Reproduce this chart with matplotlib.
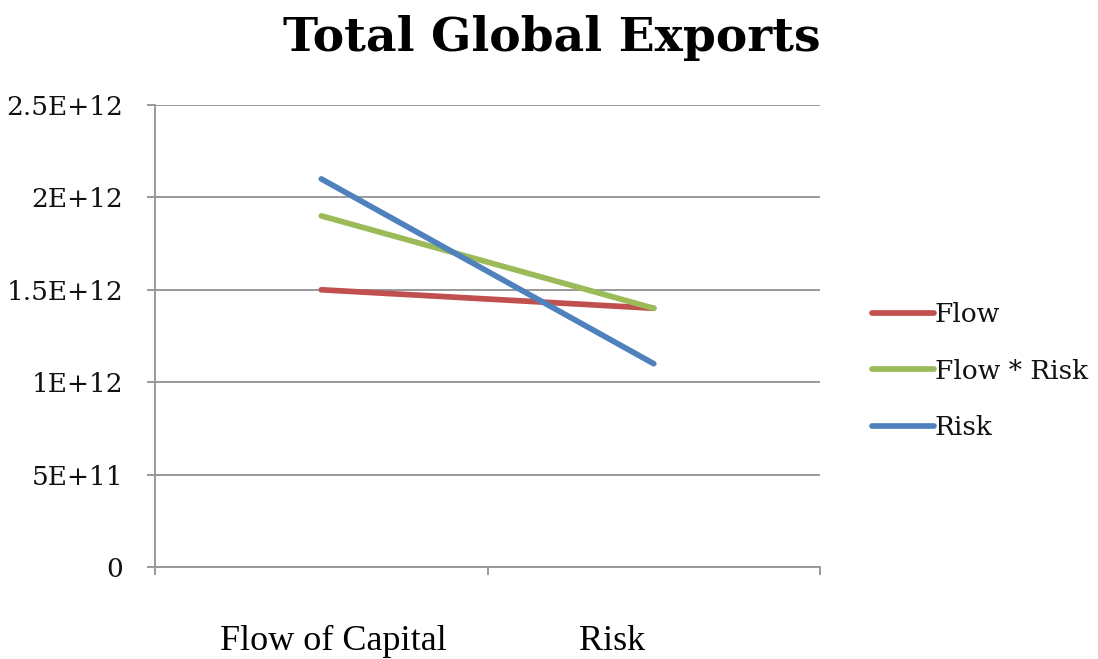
import matplotlib
matplotlib.use("Agg")
import matplotlib.pyplot as plt
import numpy as np

categories = ["Flow of Capital", "Risk"]
flow = [1.5e12, 1.4e12]
flow_risk = [1.9e12, 1.4e12]
risk = [2.1e12, 1.1e12]
y_ticks = [0, 5e11, 1e12, 1.5e12, 2e12, 2.5e12]
y_labels = ["0", "5E+11", "1E+12", "1.5E+12", "2E+12", "2.5E+12"]

fig = plt.figure(figsize=(10.98, 6.59), dpi=100)
ax = fig.add_axes([0.1412, 0.1396, 0.6056, 0.7011])

x = np.arange(len(categories)) + 0.5
ax.plot(x, flow, color="#C0504D", lw=4.1, label="Flow", solid_capstyle="round")
ax.plot(x, flow_risk, color="#9BBB59", lw=4.1, label="Flow * Risk", solid_capstyle="round")
ax.plot(x, risk, color="#4F81BD", lw=4.1, label="Risk", solid_capstyle="round")

ax.set_xlim(0, len(categories))
ax.set_ylim(0, 2.5e12)
ax.set_xticks(np.arange(len(categories) + 1))
ax.set_xticklabels([])
ax.set_yticks(y_ticks)
ax.set_yticklabels(y_labels, family="DejaVu Serif", fontsize=19, color="#111111")

ax.grid(axis="y", color="#999999", lw=1.4)
ax.set_axisbelow(True)
for s in ["top", "right"]:
    ax.spines[s].set_visible(False)
for s in ["left", "bottom"]:
    ax.spines[s].set_color("#999999")
    ax.spines[s].set_linewidth(1.4)
ax.tick_params(axis="both", color="#999999", width=1.4, length=6, direction="out")
ax.tick_params(axis="y", pad=17)

leg = ax.legend(loc="center left", bbox_to_anchor=(1.042, 0.424), frameon=False,
                handlelength=2.35, handletextpad=0.05, labelspacing=1.2,
                prop={"family": "DejaVu Serif", "size": 19})
for t in leg.get_texts():
    t.set_color("#111111")

fig.text(0.503, 0.942, "Total Global Exports", ha="center", va="center",
         family="DejaVu Serif", fontweight="bold", fontsize=34)

# category labels sit below the chart, not under the ticks
fig.text(0.304, 0.027, categories[0], ha="center", va="center",
         family="Liberation Serif", fontsize=26)
fig.text(0.557, 0.027, categories[1], ha="center", va="center",
         family="Liberation Serif", fontsize=26)

fig.savefig("out.png", dpi=100)
